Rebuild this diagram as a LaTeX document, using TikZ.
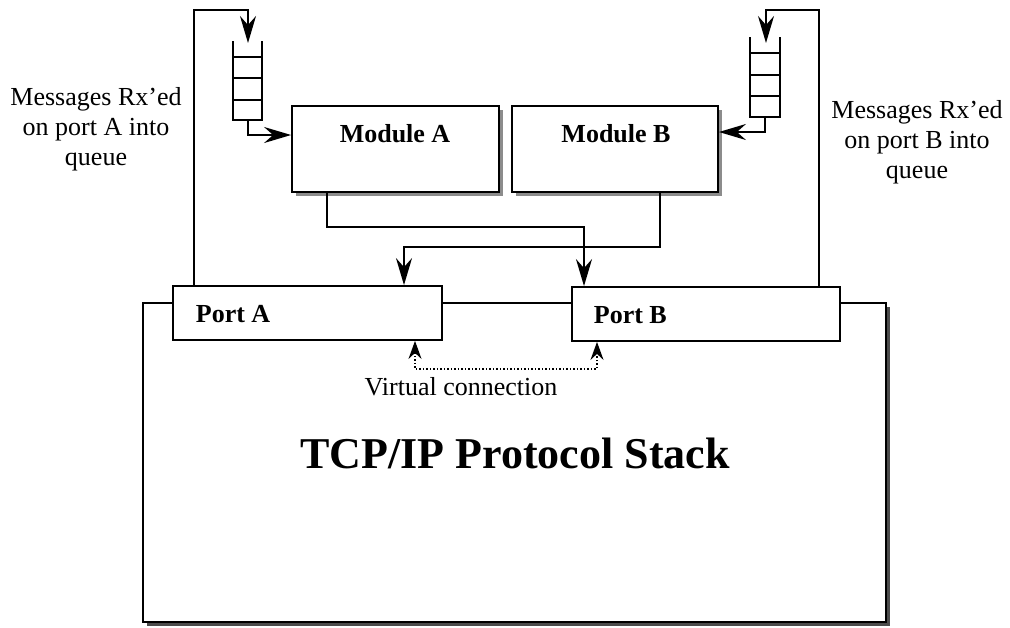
\documentclass[tikz,border=0pt]{standalone}
\usepackage{fontspec}
\setmainfont{Liberation Serif}
\usetikzlibrary{arrows.meta,shadows}
\begin{document}
\begin{tikzpicture}[x=1pt,y=-1pt,
  line width=1.8pt,
  tip/.tip={Stealth[length=27pt,width=16pt,inset=9pt]},
  smalltip/.tip={Stealth[length=18pt,width=13pt,inset=6pt]},
  arr/.style={-tip},
  boxshadow/.style={drop shadow={shadow xshift=4pt,shadow yshift=-4pt,fill=black!45,opacity=1}},
  stackshadow/.style={drop shadow={shadow xshift=4pt,shadow yshift=-4pt,fill=black!70,opacity=1}},
  plainbox/.style={draw,fill=white,inner sep=0pt},
  lbl/.style={font=\fontsize{26}{30}\selectfont,inner sep=0pt,align=center},
  blbl/.style={font=\fontsize{26}{30}\selectfont\bfseries,inner sep=0pt},
]
\useasboundingbox (0,0) rectangle (1010,627);

% protocol stack
\node[plainbox,stackshadow,minimum width=743pt,minimum height=319pt] (stack) at (514.5,462.5) {};
\node[font=\fontsize{44}{48}\selectfont\bfseries,anchor=base,inner sep=0pt] (stacklbl) at (515,468) {TCP/IP Protocol Stack};

% modules
\node[plainbox,boxshadow,minimum width=207pt,minimum height=86pt] (modA) at (395.5,149) {};
\node[plainbox,boxshadow,minimum width=206pt,minimum height=86pt] (modB) at (615,149) {};
\node[blbl,anchor=base] (modAl) at (395,142) {Module A};
\node[blbl,anchor=base] (modBl) at (616,142) {Module B};

% ports
\node[plainbox,minimum width=269pt,minimum height=54pt] (portA) at (307.5,313) {};
\node[plainbox,minimum width=268pt,minimum height=54pt] (portB) at (706,314) {};
\node[blbl,anchor=base west] (portAl) at (195,322) {Port A};
\node[blbl,anchor=base west] (portBl) at (593,323) {Port B};

% queues (open at the top)
\coordinate (qAtop) at (248,43);
\coordinate (qAbot) at (248,120);
\draw (233,41) -- (233,120) -- (262,120) -- (262,41);
\foreach \y in {57,78,100} \draw (233,\y) -- (262,\y);
\coordinate (qBtop) at (766,43);
\coordinate (qBbot) at (765,117);
\draw (750,37) -- (750,117) -- (780,117) -- (780,37);
\foreach \y in {53,75,96} \draw (750,\y) -- (780,\y);

% receive paths from ports into queues
\coordinate (lA) at (194,10);
\coordinate (lB) at (819,10);
\draw[arr] (portA.north -| lA) -- (lA) -| (qAtop);
\draw[arr] (portB.north -| lB) -- (lB) -| (qBtop);

% queues into modules
\draw[arr] (qAbot) |- (modA.west |- 0,135);
\draw[arr] (qBbot) |- (modB.east |- 0,132);

% module outputs to ports
\coordinate (mA) at (327,227);
\coordinate (mB) at (660,247);
\draw[arr] (modA.south -| mA) -- (mA) -| (portB.north -| 584,0);
\draw[arr] (modB.south -| mB) -- (mB) -| (portA.north -| 404,0);

% virtual connection between ports
\coordinate (vc) at (415,369);
\draw[smalltip-smalltip,dotted,line width=1.5pt]
  (portA.south -| vc) -- (vc) -- (vc -| 597,0) -- (portB.south -| 597,0);
\node[lbl,anchor=base] (vclbl) at (461,395) {Virtual connection};

% side labels
\node[lbl,anchor=base] (rxA) at (96,165) {Messages Rx'ed\\on port A into\\queue};
\node[lbl,anchor=base] (rxB) at (917,178) {Messages Rx'ed\\on port B into\\queue};
\end{tikzpicture}
\end{document}
